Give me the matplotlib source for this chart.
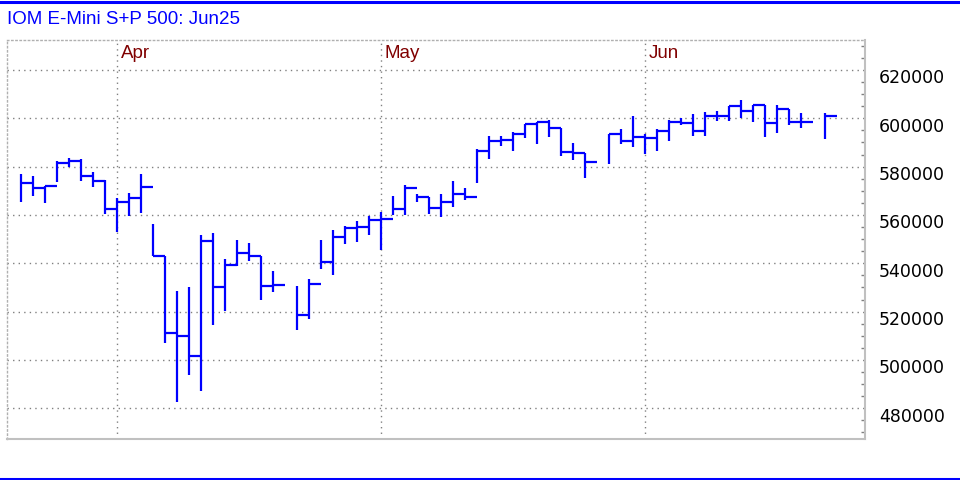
import numpy as np
import pandas as pd
import matplotlib
matplotlib.use('Agg')
import matplotlib.pyplot as plt
import matplotlib.transforms as mtransforms
from matplotlib.lines import Line2D

# business days shown on the x axis; holidays have no bar (NaN)
dates = pd.bdate_range('2025-03-19', '2025-06-20')
nan = np.nan

highs = [577000, 576300, 571900, 582200, 583600, 583200, 577700, 574500, 567000, 569100,
         577000, 556300, 543200, 528400, 530300, 551700, 552500, 541800, 549600, 548400,
         542900, 536800, nan, 530700, 533600, 549600, 553800, 555400, 557600, 559600,
         561200, 568000, 572400, 568500, 567400, 568700, 573900, 571200, 587500, 592600,
         592600, 594400, 597800, 598600, 599300, 596100, 589600, 585700, nan, 593700,
         595400, 601000, 593300, 595400, 599200, 600000, 601800, 602500, 602900, 605000,
         607500, 605300, 605300, 605600, 604000, 602100, nan, 602100]
lows = [565200, 567700, 564800, 573500, 579700, 573900, 571400, 560400, 552800, 559400,
        560700, 543200, 507000, 482800, 493800, 487000, 514500, 520100, 539000, 540800,
        524800, 528100, nan, 512200, 516800, 537600, 535000, 547800, 548700, 551600,
        545500, 559900, 559900, 565500, 560400, 559000, 563200, 566200, 573200, 583100,
        588600, 586500, 591900, 589200, 592400, 584400, 582600, 575300, nan, 581200,
        589200, 588200, 585400, 586500, 590700, 597400, 592800, 592800, 599000, 599000,
        600300, 598600, 592400, 594000, 597400, 596100, nan, 591500]
closes = [573100, 571300, 571900, 581400, 582500, 576100, 573900, 562300, 565200, 567200,
          571400, 543200, 511000, 509800, 501800, 549200, 530000, 539200, 544100, 542900,
          530500, 531100, nan, 518500, 531600, 540400, 551000, 554700, 555200, 558100,
          558500, 562300, 571000, 567300, 562800, 565300, 568500, 567600, 586400, 590600,
          591000, 593600, 597800, 598600, 596100, 586100, 585700, 581900, nan, 593700,
          590700, 592400, 591900, 594900, 598600, 598100, 594900, 601100, 601100, 605000,
          603200, 605300, 598100, 604000, 598500, 598500, nan, 601100]

title = 'IOM E-Mini S+P 500: Jun25'
month_names = ['Apr', 'May', 'Jun']
y_ticks = list(range(480000, 620001, 20000))

highs = np.array(highs, dtype=float)
lows = np.array(lows, dtype=float)
closes = np.array(closes, dtype=float)
x = np.arange(len(dates))
ok = ~np.isnan(highs)

fig = plt.figure(figsize=(9.6, 4.8), dpi=100)
ax = fig.add_axes([7 / 960, 41 / 480, 858 / 960, 399 / 480])

grid_style = dict(color='#808080', lw=1, ls=(0, (1, 3)), zorder=1)
for v in y_ticks:
    ax.axhline(v, **grid_style)

# month separators sit on the last trading day of the previous month
trans = mtransforms.blended_transform_factory(ax.transData, ax.transAxes)
for i, name in enumerate(month_names):
    first = np.argmax(dates.month == i + 4)
    pos = first - 1
    ax.axvline(pos, **grid_style)
    ax.text(pos + 0.33, 1 - 14 / 399, name, transform=trans, color='#800000',
            fontsize=13.5, family='Liberation Sans', va='center', ha='left')

# HLC bars: high-low stroke, close tick to the right
ax.vlines(x[ok], lows[ok], highs[ok], color='#0000ff', lw=1.6, zorder=3)
ax.hlines(closes[ok], x[ok], x[ok] + 1, color='#0000ff', lw=1.6, zorder=3)

ax.set_xlim(-1.1667, 70.333)
ax.set_ylim(467300, 632400)
ax.set_xticks([])

ax.yaxis.tick_right()
ax.set_yticks(y_ticks)
ax.set_yticklabels([str(v) for v in y_ticks])
ax.set_yticks(np.arange(470000, 632000, 5000), minor=True)
ax.tick_params(axis='y', which='major', length=0, pad=10, labelsize=12.5, labelcolor='black')
ax.tick_params(axis='y', which='minor', direction='in', length=3, color='#808080', width=1)
offset = mtransforms.ScaledTranslation(0, -0.065, fig.dpi_scale_trans)
for lab in ax.get_yticklabels():
    lab.set_transform(lab.get_transform() + offset)

for side in ['top', 'left']:
    ax.spines[side].set_color('#b0b0b0')
    ax.spines[side].set_linestyle((0, (1, 2)))
    ax.spines[side].set_linewidth(1)
for side in ['bottom', 'right']:
    ax.spines[side].set_color('#c0c0c0')
    ax.spines[side].set_linewidth(1.5)

fig.text(7 / 960, 1 - 20 / 480, title, color='#0000ff', fontsize=13.5,
         family='Liberation Sans', va='center', ha='left')

fig.add_artist(Line2D([0, 1], [1 - 1.5 / 480] * 2, color='#0000ff', lw=2.2,
                      transform=fig.transFigure))
fig.add_artist(Line2D([0, 1], [1.5 / 480] * 2, color='#0000ff', lw=2.2,
                      transform=fig.transFigure))

fig.savefig('out.png', dpi=100)
